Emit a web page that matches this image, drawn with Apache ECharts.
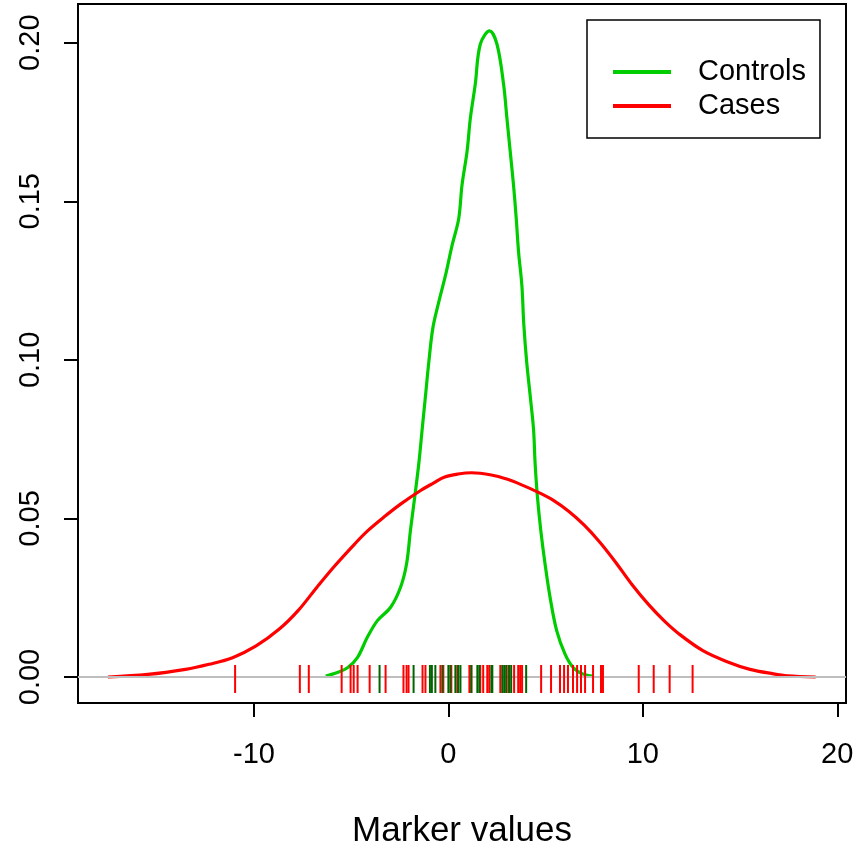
<!DOCTYPE html>
<html>
<head>
<meta charset="utf-8">
<script src="https://cdn.jsdelivr.net/npm/echarts@6/dist/echarts.min.js"></script>
<style>
  html, body { margin: 0; padding: 0; background: #ffffff; }
  #chart { width: 856px; height: 849px; }
</style>
</head>
<body>
<div id="chart"></div>
<script>
// Density estimate of the marker for controls (x, density)
const controlsX = [-6.31, -5.71, -5.19, -4.68, -4.17, -3.66, -2.97, -2.46, -2.15, -1.95, -1.73, -1.52, -1.35, -1.18, -1.01, -0.80, -0.50, -0.15, 0.19, 0.53, 0.70, 0.96, 1.13, 1.38, 1.64, 2.12, 2.50, 2.84, 3.01, 3.18, 3.35, 3.49, 3.61, 3.78, 3.88, 4.03, 4.21, 4.38, 4.46, 4.58, 4.75, 4.97, 5.23, 5.57, 6.00, 6.43, 6.94, 7.45];
const controlsY = [0.0003, 0.0014, 0.0029, 0.0061, 0.0125, 0.0177, 0.0220, 0.0283, 0.0357, 0.0463, 0.0568, 0.0674, 0.0780, 0.0885, 0.0991, 0.1100, 0.1181, 0.1266, 0.1361, 0.1445, 0.1551, 0.1657, 0.1762, 0.1868, 0.1995, 0.2037, 0.1995, 0.1868, 0.1762, 0.1657, 0.1551, 0.1445, 0.1340, 0.1234, 0.1110, 0.0991, 0.0885, 0.0780, 0.0674, 0.0568, 0.0463, 0.0357, 0.0251, 0.0146, 0.0072, 0.0029, 0.0009, 0.0003];

// Density estimate of the marker for cases (x, density)
const casesX = [-17.51, -15.46, -13.52, -12.31, -11.10, -9.89, -8.68, -7.72, -6.75, -5.85, -4.81, -4.17, -3.30, -2.46, -1.43, -0.75, -0.22, 0.50, 1.20, 2.21, 3.00, 3.80, 4.60, 5.40, 6.20, 7.00, 7.79, 8.60, 9.46, 10.30, 11.10, 11.88, 13.09, 14.30, 15.51, 16.72, 17.44, 18.89];
const casesY = [0.0000, 0.0008, 0.0024, 0.0040, 0.0061, 0.0098, 0.0152, 0.0210, 0.0284, 0.0350, 0.0420, 0.0460, 0.0505, 0.0545, 0.0588, 0.0612, 0.0630, 0.0640, 0.0644, 0.0637, 0.0624, 0.0605, 0.0583, 0.0557, 0.0522, 0.0478, 0.0425, 0.0362, 0.0290, 0.0228, 0.0177, 0.0135, 0.0083, 0.0049, 0.0024, 0.0010, 0.0004, 0.0000];

// Individual observations (rug)
const casesRug = [-10.97, -7.64, -7.18, -5.49, -5.03, -4.87, -4.67, -4.05, -3.23, -2.31, -2.15, -2.05, -1.33, -1.18, -0.41, -0.26, 0.15, 0.46, 1.08, 1.18, 1.64, 1.79, 2.00, 2.10, 2.67, 3.08, 3.38, 3.59, 3.69, 3.79, 4.77, 5.28, 5.74, 5.95, 6.15, 6.41, 6.62, 6.82, 7.03, 7.44, 7.85, 7.95, 9.79, 10.56, 11.38, 12.56];
const controlsRug = [-3.54, -1.79, -0.95, -0.85, -0.67, -0.31, 0.00, 0.10, 0.36, 0.51, 0.62, 1.18, 1.49, 1.59, 2.21, 2.26, 2.77, 2.87, 2.97, 3.13, 3.23, 4.00];

// Axis ranges and tick labels
const xRange = [-19.05, 20.45];
const yRange = [-0.0082, 0.2122];
const xTicks = [-10, 0, 10, 20];
const yTicks = [0, 0.05, 0.10, 0.15, 0.20];

const seriesNames = ['Controls', 'Cases'];
const xTitle = 'Marker values';

const FONT = 'Liberation Sans, Arial, sans-serif';
const GREEN = '#00CD00';
const RED = '#FF0000';
const DARKGREEN = '#006400';

function pairs(xs, ys) { return xs.map((x, i) => [x, ys[i]]); }

function rugSeries(name, values, color) {
  return {
    name: name,
    type: 'custom',
    silent: true,
    z: 5,
    data: values.map(v => [v, 0]),
    encode: { x: 0, y: 1 },
    renderItem: function (params, api) {
      const p = api.coord([api.value(0), 0]);
      return {
        type: 'line',
        shape: { x1: p[0], y1: p[1] - 12, x2: p[0], y2: p[1] + 16 },
        style: { stroke: color, lineWidth: 2 }
      };
    }
  };
}

const chart = echarts.init(document.getElementById('chart'), null, { renderer: 'canvas' });

chart.setOption({
  animation: false,
  backgroundColor: '#ffffff',
  textStyle: { fontFamily: FONT },
  grid: {
    left: 78, right: 10, top: 4, bottom: 146,
    containLabel: false,
    outerBoundsMode: 'none',
    show: true,
    borderColor: '#000000',
    borderWidth: 2,
    backgroundColor: 'transparent'
  },
  legend: {
    data: seriesNames,
    orient: 'vertical',
    left: 587,
    top: 20,
    icon: 'rect',
    itemWidth: 58,
    itemHeight: 4,
    itemGap: 4,
    padding: [37, 14, 17, 26],
    borderColor: '#000000',
    borderWidth: 1.5,
    backgroundColor: '#ffffff',
    selectedMode: false,
    textStyle: {
      fontFamily: FONT,
      fontSize: 29,
      color: '#000000',
      lineHeight: 30,
      padding: [0, 0, 0, 22]
    }
  },
  xAxis: {
    type: 'value',
    min: xRange[0],
    max: xRange[1],
    name: xTitle,
    nameLocation: 'middle',
    nameGap: 111,
    nameTextStyle: { fontFamily: FONT, fontSize: 35, color: '#000000' },
    splitLine: { show: false },
    axisLine: { show: false, onZero: false },
    axisTick: {
      show: true,
      customValues: xTicks,
      length: 14,
      inside: false,
      lineStyle: { color: '#000000', width: 2 }
    },
    axisLabel: {
      customValues: xTicks,
      margin: 37,
      fontSize: 29,
      color: '#000000',
      fontFamily: FONT,
      formatter: v => String(v)
    }
  },
  yAxis: {
    type: 'value',
    min: yRange[0],
    max: yRange[1],
    splitLine: { show: false },
    axisLine: { show: false, onZero: false },
    axisTick: {
      show: true,
      customValues: yTicks,
      length: 14,
      inside: false,
      lineStyle: { color: '#000000', width: 2 }
    },
    axisLabel: {
      customValues: yTicks,
      rotate: 90,
      margin: 33,
      fontSize: 29,
      color: '#000000',
      fontFamily: FONT,
      formatter: v => v.toFixed(2)
    }
  },
  series: [
    {
      name: seriesNames[0],
      type: 'line',
      data: pairs(controlsX, controlsY),
      showSymbol: false,
      smooth: 0.35,
      z: 2,
      lineStyle: { color: GREEN, width: 3.2 },
      itemStyle: { color: GREEN }
    },
    {
      name: seriesNames[1],
      type: 'line',
      data: pairs(casesX, casesY),
      showSymbol: false,
      smooth: 0.35,
      z: 3,
      lineStyle: { color: RED, width: 3.2 },
      itemStyle: { color: RED },
      markLine: {
        silent: true,
        symbol: 'none',
        label: { show: false },
        lineStyle: { color: '#BEBEBE', width: 2, type: 'solid' },
        data: [{ yAxis: 0 }]
      }
    },
    rugSeries('cases-rug', casesRug, RED),
    rugSeries('controls-rug', controlsRug, DARKGREEN)
  ]
});
</script>
</body>
</html>
